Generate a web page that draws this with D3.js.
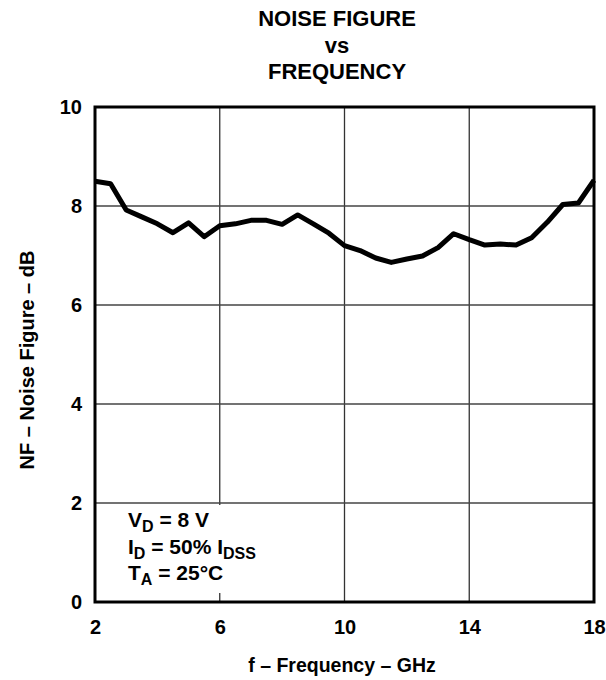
<!DOCTYPE html>
<html>
<head>
<meta charset="utf-8">
<script src="https://cdn.jsdelivr.net/npm/d3@7"></script>
<style>
  body { margin: 0; background: #fff; }
  text { font-family: "Liberation Sans", Arial, sans-serif; font-weight: bold; fill: #000; }
</style>
</head>
<body>
<div id="chart"></div>
<script>
var svgWidth = 606;
var svgHeight = 680;

var margin = { top: 107, right: 12, bottom: 78, left: 95 };
var width = 594 - margin.left;
var height = 602 - margin.top;

// frequency (GHz) and noise figure (dB)
var freq = [2, 2.5, 3, 3.5, 4, 4.5, 5, 5.5, 6, 6.5, 7, 7.5, 8, 8.5, 9, 9.5, 10,
            10.5, 11, 11.5, 12, 12.5, 13, 13.5, 14, 14.5, 15, 15.5, 16, 16.5, 17, 17.5, 18];
var noiseFigure = [8.5, 8.45, 7.92, 7.78, 7.64, 7.46, 7.66, 7.38, 7.6, 7.64, 7.71, 7.71, 7.63, 7.82, 7.64, 7.45, 7.2,
                   7.1, 6.95, 6.86, 6.93, 6.99, 7.16, 7.44, 7.32, 7.21, 7.23, 7.21, 7.36, 7.67, 8.03, 8.06, 8.52];
var xTicks = [2, 6, 10, 14, 18];
var yTicks = [0, 2, 4, 6, 8, 10];
var titleLines = ["NOISE FIGURE", "vs", "FREQUENCY"];

var svg = d3.select("#chart")
  .append("svg")
  .attr("width", svgWidth)
  .attr("height", svgHeight);

var chartGroup = svg.append("g")
  .attr("transform", `translate(${margin.left}, ${margin.top})`);

var xScale = d3.scaleLinear().domain([2, 18]).range([0, width]);
var yScale = d3.scaleLinear().domain([0, 10]).range([height, 0]);

// grid
chartGroup.append("g")
  .selectAll("line")
  .data(xTicks.slice(1, -1))
  .enter()
  .append("line")
  .attr("x1", d => xScale(d)).attr("x2", d => xScale(d))
  .attr("y1", 0).attr("y2", height)
  .attr("stroke", "#333")
  .attr("stroke-width", 1.3);

chartGroup.append("g")
  .selectAll("line")
  .data(yTicks.slice(1, -1))
  .enter()
  .append("line")
  .attr("x1", 0).attr("x2", width)
  .attr("y1", d => yScale(d)).attr("y2", d => yScale(d))
  .attr("stroke", "#444")
  .attr("stroke-width", 1.5);

// condition box (white background hides grid)
var notes = chartGroup.append("g")
  .attr("transform", `translate(${xScale(2)}, ${yScale(2)})`);
notes.append("rect")
  .attr("x", 2).attr("y", 2)
  .attr("width", 165).attr("height", 88)
  .attr("fill", "#fff");

var noteLines = [
  [["V", 0], ["D", 1], [" = 8 V", 0]],
  [["I", 0], ["D", 1], [" = 50% I", 0], ["DSS", 1]],
  [["T", 0], ["A", 1], ["  = 25°C", 0]]
];
noteLines.forEach((parts, i) => {
  var t = notes.append("text")
    .attr("x", 33)
    .attr("y", 24 + i * 26.5)
    .attr("font-size", "21px");
  parts.forEach((p, j) => {
    t.append("tspan")
      .attr("font-size", p[1] ? "16px" : "21px")
      .attr("dy", p[1] ? 5 : (j > 0 ? -5 : 0))
      .text(p[0]);
  });
});

// curve
var line = d3.line()
  .x((d, i) => xScale(freq[i]))
  .y(d => yScale(d));

chartGroup.append("path")
  .datum(noiseFigure)
  .attr("d", line)
  .attr("fill", "none")
  .attr("stroke", "#000")
  .attr("stroke-width", 5)
  .attr("stroke-linejoin", "round");

// frame
chartGroup.append("rect")
  .attr("width", width).attr("height", height)
  .attr("fill", "none")
  .attr("stroke", "#000")
  .attr("stroke-width", 3);

// axes
var xAxis = d3.axisBottom(xScale).tickValues(xTicks).tickSize(0).tickPadding(18);
var yAxis = d3.axisLeft(yScale).tickValues(yTicks).tickSize(0).tickPadding(13);

var xg = chartGroup.append("g")
  .attr("transform", `translate(0,${height})`)
  .call(xAxis);
var yg = chartGroup.append("g").call(yAxis);
[xg, yg].forEach(g => {
  g.select(".domain").remove();
  g.selectAll("text")
    .attr("font-size", "20px")
    .attr("font-family", "Liberation Sans, Arial, sans-serif")
    .attr("font-weight", "bold")
    .attr("fill", "#000");
});

// titles
svg.append("g").selectAll("text")
  .data(titleLines)
  .enter()
  .append("text")
  .attr("x", 337)
  .attr("y", (d, i) => 26 + i * 26.5)
  .attr("text-anchor", "middle")
  .attr("font-size", "22px")
  .text(d => d);

svg.append("text")
  .attr("x", 342)
  .attr("y", 672)
  .attr("text-anchor", "middle")
  .attr("font-size", "19.5px")
  .text("f – Frequency – GHz");

svg.append("text")
  .attr("transform", `translate(34,360)rotate(-90)`)
  .attr("text-anchor", "middle")
  .attr("font-size", "20px")
  .text("NF – Noise Figure – dB");
</script>
</body>
</html>
